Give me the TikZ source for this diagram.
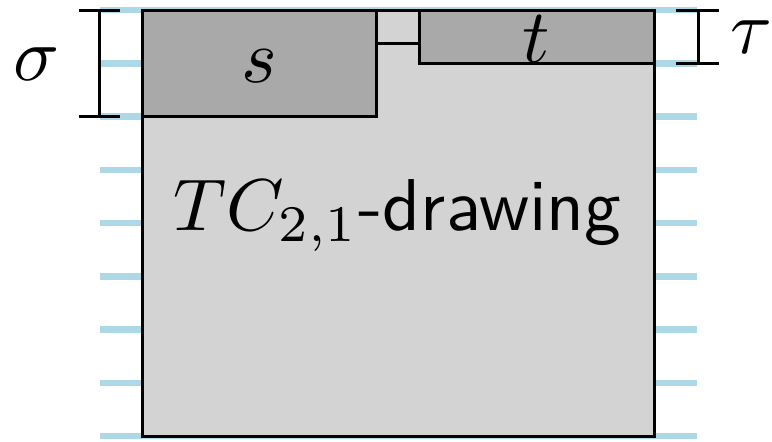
\documentclass[tikz,border=0pt]{standalone}
\begin{document}
\begin{tikzpicture}[x=0.5pt,y=-0.5pt,
  guide/.style={draw=lightblue,line width=3.25pt},
  blk/.style={draw=black,line width=1.5pt},
  box/.style={blk,rectangle,inner sep=0pt,outer sep=0pt},
  biglabel/.style={inner sep=0pt,scale=3.8},
]
\definecolor{lightblue}{RGB}{173,216,230}
\definecolor{boxgray}{RGB}{211,211,211}
\definecolor{darkbox}{RGB}{169,169,169}
\useasboundingbox (0,0) rectangle (772,441);
% guide lines
\foreach \i in {0,...,8}{
  \coordinate (gl\i) at (100,{10+\i*53.25});
  \coordinate (gr\i) at (697,{10+\i*53.25});
  \draw[guide] (gl\i) -- (gr\i);
}
% main drawing
\node[box,fill=boxgray,minimum width=256pt,minimum height=213pt] (main) at (398,223) {};
\node[box,fill=darkbox,minimum width=117pt,minimum height=53.25pt] (s) at (259,63.25) {};
\node[box,fill=darkbox,minimum width=117.5pt,minimum height=26.625pt] (t) at (536.5,36.625) {};
\node[biglabel,anchor=base] (slab) at (259,82) {$s$};
\node[biglabel,anchor=base] (tlab) at (536,62) {$t$};
\coordinate (cy) at (0,43);
\draw[blk] (s.east |- cy) -- (t.west |- cy);
\node[anchor=base,inner sep=0pt,scale=3.67] (title) at (397.5,230) {$TC_{2,1}$\textsf{-drawing}};
% sigma bracket
\coordinate (sa) at (79,10);
\coordinate (sb) at (120,10);
\coordinate (sc) at (79,116.5);
\coordinate (sd) at (120,116.5);
\coordinate (sm1) at (99,10);
\coordinate (sm2) at (99,116.5);
\draw[blk] (sa) -- (sb);
\draw[blk] (sc) -- (sd);
\draw[blk] (sm1) -- (sm2);
\node[biglabel,anchor=base] (sigma) at (37,80) {$\sigma$};
% tau bracket
\coordinate (ta) at (676,10);
\coordinate (tb) at (719,10);
\coordinate (tc) at (676,63.25);
\coordinate (td) at (719,63.25);
\coordinate (tm1) at (698,10);
\coordinate (tm2) at (698,63.25);
\draw[blk] (ta) -- (tb);
\draw[blk] (tc) -- (td);
\draw[blk] (tm1) -- (tm2);
\node[biglabel,anchor=base] (tau) at (751,53) {$\tau$};
\end{tikzpicture}
\end{document}
